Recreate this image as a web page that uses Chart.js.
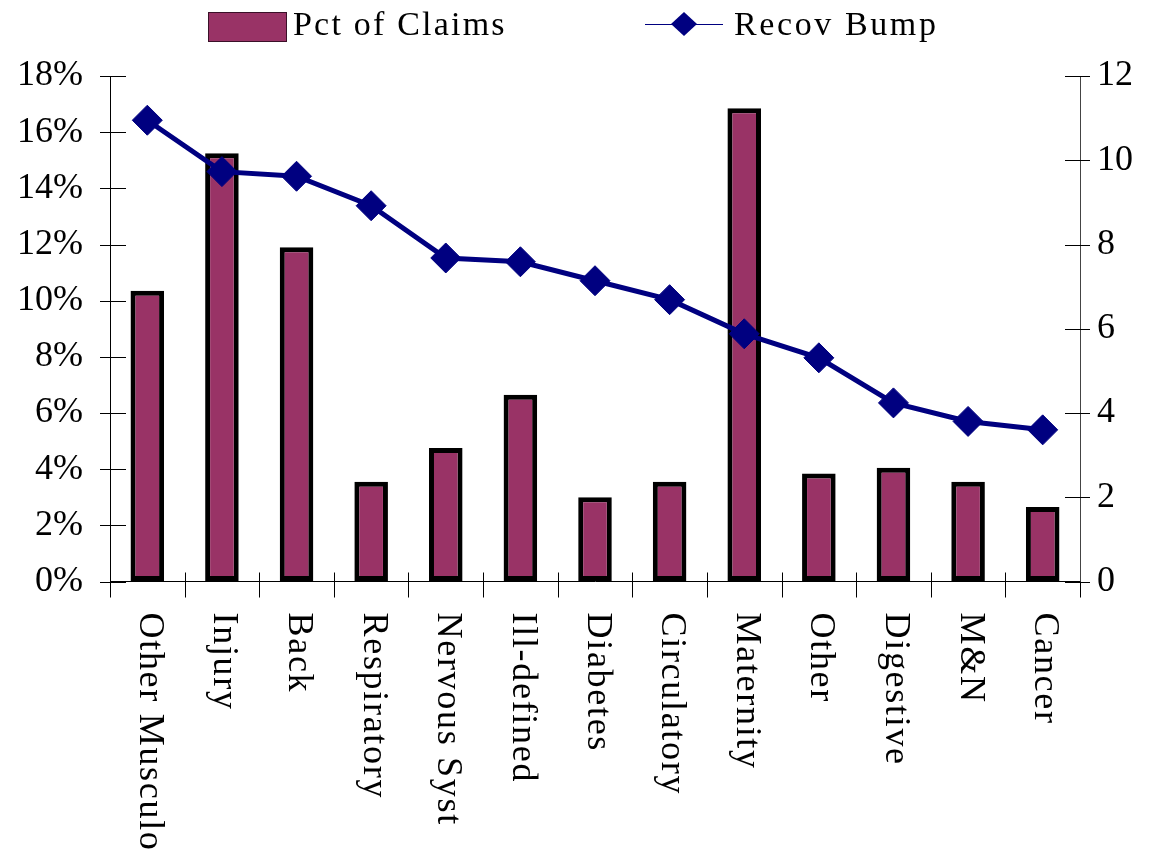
<!DOCTYPE html>
<html>
<head>
<meta charset="utf-8">
<script src="https://cdn.jsdelivr.net/npm/chart.js@4.4.1/dist/chart.umd.min.js"></script>
<style>
  html, body { margin: 0; padding: 0; background: #fff; }
  #wrap { width: 1157px; height: 857px; }
</style>
</head>
<body>
<div id="wrap"><canvas id="chart" width="1157" height="857"></canvas></div>
<script>
// data
const categories = ['Other Musculo', 'Injury', 'Back', 'Respiratory', 'Nervous Syst', 'Ill-defined',
  'Diabetes', 'Circulatory', 'Maternity', 'Other', 'Digestive', 'M&N', 'Cancer'];
const pctClaims = [10.35, 15.25, 11.9, 3.55, 4.75, 6.65, 3.0, 3.55, 16.85, 3.85, 4.05, 3.55, 2.65];
const recovBump = [10.95, 9.73, 9.62, 8.92, 7.68, 7.59, 7.14, 6.69, 5.88, 5.31, 4.24, 3.80, 3.60];
const seriesNames = ['Pct of Claims', 'Recov Bump'];

const FONT = '"Liberation Serif", "Times New Roman", serif';
const BAR_COLOR = '#993366';
const LINE_COLOR = '#000080';

// tick marks crossing the axes, like the original
const axisTicks = {
  id: 'axisTicks',
  afterDraw(chart) {
    const c = chart.ctx;
    const { x, y, y1 } = chart.scales;
    const area = chart.chartArea;
    c.save();
    c.strokeStyle = '#000';
    c.lineWidth = 1;
    c.beginPath();
    y.ticks.forEach(t => {
      const py = Math.round(y.getPixelForValue(t.value)) + 0.5;
      c.moveTo(area.left - 10, py); c.lineTo(area.left + 16, py);
    });
    y1.ticks.forEach(t => {
      const py = Math.round(y1.getPixelForValue(t.value)) + 0.5;
      c.moveTo(area.right - 15, py); c.lineTo(area.right + 10, py);
    });
    const step = (area.right - area.left) / categories.length;
    for (let i = 0; i <= categories.length; i++) {
      const px = Math.round(area.left + i * step) + 0.5;
      const top = (i === 0 || i === categories.length) ? area.bottom : area.bottom - 9;
      c.moveTo(px, top); c.lineTo(px, area.bottom + 16);
    }
    c.stroke();
    c.restore();
  }
};

// vertical category labels, reading top to bottom
const xLabels = {
  id: 'xLabels',
  afterDraw(chart) {
    const c = chart.ctx;
    const x = chart.scales.x;
    c.save();
    c.fillStyle = '#000';
    c.font = '36px ' + FONT;
    c.letterSpacing = '1.7px';
    c.textAlign = 'left';
    c.textBaseline = 'middle';
    categories.forEach((name, i) => {
      c.save();
      c.translate(x.getPixelForValue(i) + 2, chart.chartArea.bottom + 31);
      c.rotate(Math.PI / 2);
      c.fillText(name, 0, 0);
      c.restore();
    });
    c.restore();
  }
};

// legend across the top
const topLegend = {
  id: 'topLegend',
  afterDraw(chart) {
    const c = chart.ctx;
    c.save();
    c.fillStyle = BAR_COLOR;
    c.fillRect(208, 12, 79, 30);
    c.strokeStyle = '#3a1028';
    c.lineWidth = 1;
    c.strokeRect(208.5, 12.5, 78, 29);
    c.fillStyle = '#000';
    c.font = '34px ' + FONT;
    c.letterSpacing = '2.2px';
    c.textBaseline = 'middle';
    c.fillText(seriesNames[0], 293, 26);
    c.strokeStyle = LINE_COLOR;
    c.beginPath();
    c.moveTo(645, 24.5); c.lineTo(723, 24.5);
    c.stroke();
    c.fillStyle = LINE_COLOR;
    c.beginPath();
    c.moveTo(684, 12); c.lineTo(697, 24); c.lineTo(684, 36); c.lineTo(671, 24);
    c.closePath(); c.fill();
    c.fillStyle = '#000';
    c.letterSpacing = '2.6px';
    c.fillText(seriesNames[1], 734, 26);
    c.restore();
  }
};

new Chart(document.getElementById('chart'), {
  data: {
    labels: categories,
    datasets: [
      {
        type: 'line',
        label: seriesNames[1],
        data: recovBump,
        yAxisID: 'y1',
        order: 0,
        borderColor: LINE_COLOR,
        borderWidth: 5,
        pointStyle: 'rectRot',
        pointRadius: 15,
        pointBackgroundColor: LINE_COLOR,
        pointBorderColor: LINE_COLOR,
        pointBorderWidth: 1,
        tension: 0
      },
      {
        type: 'bar',
        label: seriesNames[0],
        data: pctClaims,
        yAxisID: 'y',
        order: 1,
        backgroundColor: BAR_COLOR,
        borderColor: '#000',
        borderWidth: 5,
        borderSkipped: false,
        barPercentage: 0.45,
        categoryPercentage: 1
      }
    ]
  },
  options: {
    responsive: false,
    animation: false,
    devicePixelRatio: 1,
    layout: { padding: { top: 76, left: 0, right: 0, bottom: 0 } },
    plugins: { legend: { display: false }, tooltip: { enabled: false } },
    scales: {
      x: {
        offset: true,
        grid: { display: false },
        border: { display: true, color: '#000', width: 1 },
        ticks: { display: false },
        afterFit(s) { s.height = 275.5; }
      },
      y: {
        position: 'left',
        min: 0, max: 18,
        grid: { display: true, drawOnChartArea: false, drawTicks: false },
        border: { display: true, color: '#000', width: 1 },
        ticks: {
          stepSize: 2,
          padding: 27,
          color: '#000',
          font: { family: FONT, size: 36 },
          callback: v => v + '%'
        },
        afterFit(s) { s.width = 110; }
      },
      y1: {
        position: 'right',
        min: 0, max: 12,
        grid: { display: true, drawOnChartArea: false, drawTicks: false },
        border: { display: true, color: '#444', width: 1 },
        ticks: {
          stepSize: 2,
          padding: 17,
          color: '#000',
          font: { family: FONT, size: 36 }
        },
        afterFit(s) { s.width = 77; }
      }
    }
  },
  plugins: [axisTicks, xLabels, topLegend]
});
</script>
</body>
</html>
